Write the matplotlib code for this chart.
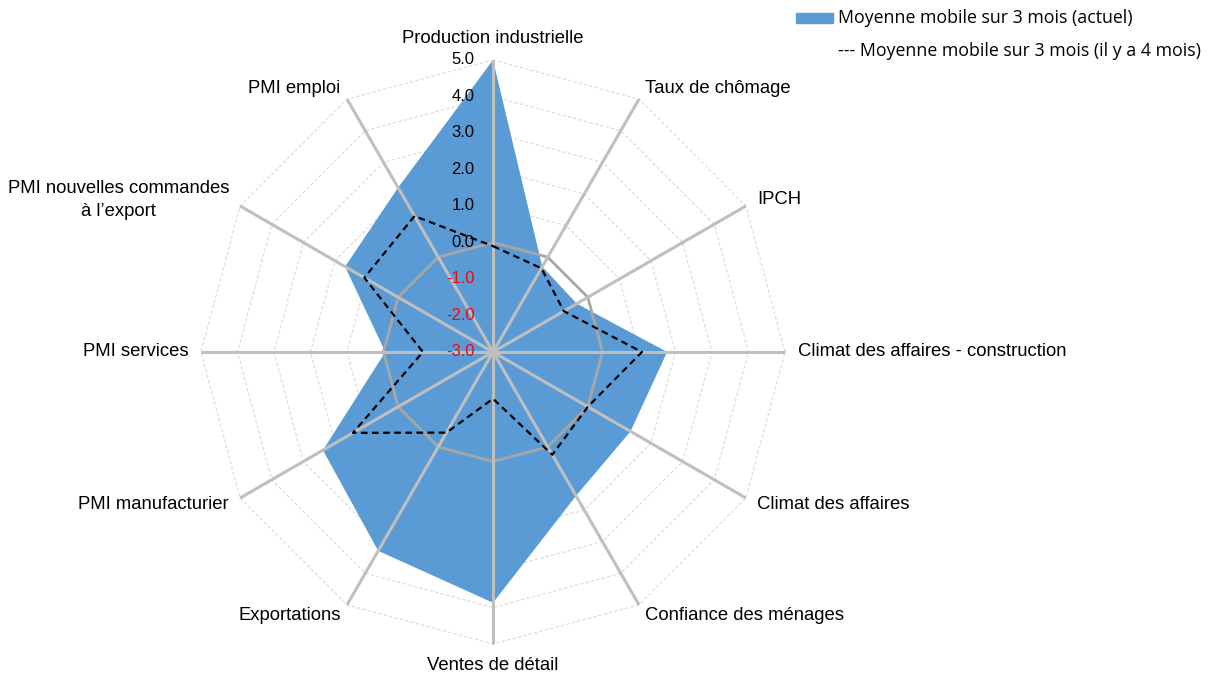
import numpy as np
import matplotlib
matplotlib.use("Agg")
import matplotlib.pyplot as plt
from matplotlib.patches import Rectangle

categories = ["Production industrielle", "Taux de chômage", "IPCH",
              "Climat des affaires - construction", "Climat des affaires",
              "Confiance des ménages", "Ventes de détail", "Exportations",
              "PMI manufacturier", "PMI services",
              "PMI nouvelles commandes\nà l’export", "PMI emploi"]
actuel = [5.0, -0.3, -0.35, 1.77, 1.35, 1.55, 3.87, 3.29, 2.38, -0.05, 1.68, 2.2]
il_y_a_4_mois = [-0.1, -0.35, -0.76, 1.08, 0.0, 0.25, -1.72, -0.45, 1.43, -1.08, 1.07, 1.3]
ticks = [-3, -2, -1, 0, 1, 2, 3, 4, 5]
tick_labels = ["-3.0", "-2.0", "-1.0", "0.0", "1.0", "2.0", "3.0", "4.0", "5.0"]

rmin = -3.0
label_font = ["Liberation Sans Narrow", "Liberation Sans", "DejaVu Sans"]

n = len(categories)
ang = np.arange(n) * 2 * np.pi / n


def xy(vals):
    r = np.asarray(vals, dtype=float) - rmin
    x = r * np.sin(ang)
    y = r * np.cos(ang)
    return np.append(x, x[0]), np.append(y, y[0])


fig = plt.figure(figsize=(12.22, 6.78), dpi=100)
ax = fig.add_axes([0, 0, 1, 1])
scale = 36.5  # px per unit
ax.set_xlim(-493 / scale, (1222 - 493) / scale)
ax.set_ylim(-(678 - 352) / scale, 352 / scale)
ax.axis("off")

# light dashed rings
for t in ticks[1:]:
    if t == 0:
        continue
    gx, gy = xy([t] * n)
    ax.plot(gx, gy, color="#D9D9D9", lw=0.8, ls=(0, (3, 2)), zorder=1)

# actual series
ax_x, ax_y = xy(actuel)
ax.fill(ax_x, ax_y, color="#5B9BD5", lw=0, zorder=2)

# zero ring
zx, zy = xy([0] * n)
ax.plot(zx, zy, color="#A6A6A6", lw=2.0, zorder=3)

# spokes
R = ticks[-1] - rmin
for a in ang:
    ax.plot([0, R * np.sin(a)], [0, R * np.cos(a)], color="#BFBFBF", lw=2.2,
            solid_capstyle="butt", zorder=3)

# 4 months ago
dx, dy = xy(il_y_a_4_mois)
ax.plot(dx, dy, color="black", lw=1.6, ls=(0, (3, 2)), zorder=4)

# tick labels
for t, lab in zip(ticks, tick_labels):
    ax.text(-0.5, t - rmin, lab, ha="right", va="center", fontsize=12,
            color="red" if t < 0 else "black", family=label_font, zorder=5)

# category labels
rl = R + 0.35
for a, lab in zip(ang, categories):
    deg = np.degrees(a)
    x, y = rl * np.sin(a), rl * np.cos(a)
    if np.isclose(deg, 0):
        ha, va = "center", "bottom"
    elif np.isclose(deg, 180):
        ha, va = "center", "top"
    elif deg < 180:
        ha, va = "left", "center"
    else:
        ha, va = "right", "center"
    ax.text(x, y, lab, ha=ha, va=va, fontsize=13.3, family=label_font,
            multialignment="center", linespacing=1.45)

# legend
fig.patches.append(Rectangle((796 / 1222, 1 - 23 / 678), 37 / 1222, 10 / 678,
                             transform=fig.transFigure, color="#5B9BD5"))
fig.text(838 / 1222, 1 - 18 / 678, "Moyenne mobile sur 3 mois (actuel)",
         ha="left", va="center", fontsize=12.8, family="Open Sans")
fig.text(838 / 1222, 1 - 51 / 678, "--- Moyenne mobile sur 3 mois (il y a 4 mois)",
         ha="left", va="center", fontsize=12.8, family="Open Sans")

fig.savefig("out.png", dpi=100)
